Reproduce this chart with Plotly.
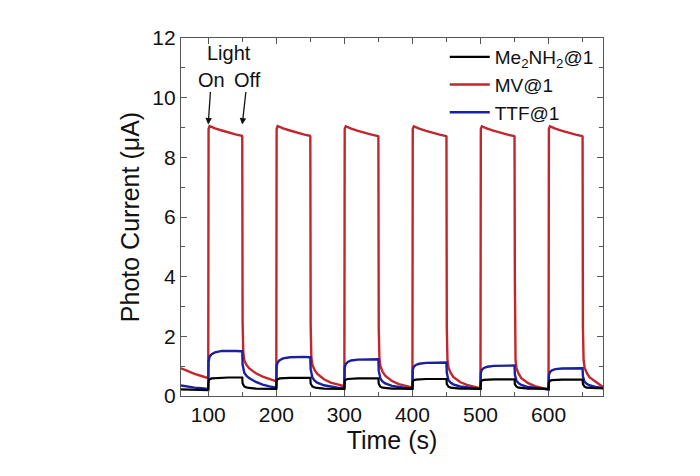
import plotly.graph_objects as go

# ---- data ----
PRE_T = [60, 70, 80, 90, 99]
CYCLE_STARTS = [100, 200, 300, 400, 500, 600]
CYC_OFFSETS = [0, 0.5, 2, 5, 10, 20, 30, 40, 49.5, 50, 50.5, 51.5, 53, 56, 60, 70, 80, 90, 99]

MV_PRE = [0.93, 0.83, 0.74, 0.67, 0.62]
MV_CYCLES = [
    [0.6, 8.95, 9.05, 9.02, 8.97, 8.9, 8.83, 8.77, 8.72, 8.7, 2.5, 1.45, 1.2, 1.05, 0.93, 0.76, 0.65, 0.56, 0.5],
    [0.5, 8.95, 9.05, 9.02, 8.97, 8.9, 8.83, 8.77, 8.72, 8.7, 2.4, 1.3, 1.05, 0.88, 0.75, 0.56, 0.45, 0.38, 0.33],
    [0.33, 8.95, 9.04, 9.01, 8.96, 8.89, 8.82, 8.76, 8.71, 8.7, 2.3, 1.25, 1.0, 0.82, 0.68, 0.5, 0.4, 0.33, 0.29],
    [0.29, 8.95, 9.04, 9.01, 8.96, 8.89, 8.82, 8.76, 8.71, 8.7, 2.3, 1.2, 0.95, 0.78, 0.64, 0.47, 0.37, 0.3, 0.26],
    [0.26, 8.95, 9.04, 9.01, 8.96, 8.89, 8.82, 8.76, 8.71, 8.7, 3.9, 1.2, 0.92, 0.75, 0.6, 0.43, 0.33, 0.26, 0.21],
    [0.21, 8.95, 9.04, 9.01, 8.96, 8.89, 8.82, 8.76, 8.71, 8.7, 2.3, 1.2, 0.95, 0.78, 0.63, 0.45, 0.3, 0.28, 0.25],
]

TTF_PRE = [0.35, 0.31, 0.28, 0.26, 0.24]
TTF_CYCLES = [
    [0.24, 1.15, 1.32, 1.40, 1.46, 1.51, 1.52, 1.51, 1.50, 1.50, 1.05, 0.88, 0.78, 0.68, 0.6, 0.47, 0.38, 0.32, 0.28],
    [0.28, 1.0, 1.13, 1.2, 1.26, 1.30, 1.31, 1.31, 1.30, 1.30, 0.9, 0.72, 0.62, 0.52, 0.45, 0.36, 0.31, 0.28, 0.26],
    [0.26, 0.95, 1.07, 1.14, 1.19, 1.22, 1.23, 1.23, 1.23, 1.23, 0.85, 0.68, 0.58, 0.49, 0.42, 0.34, 0.3, 0.27, 0.25],
    [0.25, 0.88, 0.98, 1.04, 1.08, 1.11, 1.12, 1.12, 1.12, 1.12, 0.78, 0.62, 0.53, 0.45, 0.39, 0.32, 0.28, 0.26, 0.24],
    [0.24, 0.78, 0.88, 0.94, 0.98, 1.01, 1.02, 1.02, 1.02, 1.02, 0.72, 0.58, 0.5, 0.43, 0.37, 0.3, 0.27, 0.25, 0.22],
    [0.22, 0.70, 0.80, 0.86, 0.90, 0.92, 0.93, 0.93, 0.93, 0.93, 0.66, 0.54, 0.47, 0.41, 0.36, 0.3, 0.26, 0.25, 0.24],
]

ME_PRE = [0.22, 0.21, 0.21, 0.2, 0.2]
ME_CYCLES = [
    [0.2, 0.5, 0.56, 0.59, 0.6, 0.61, 0.62, 0.62, 0.62, 0.62, 0.42, 0.36, 0.32, 0.29, 0.27, 0.25, 0.24, 0.24, 0.24],
    [0.24, 0.5, 0.56, 0.59, 0.6, 0.61, 0.61, 0.61, 0.61, 0.61, 0.42, 0.36, 0.32, 0.29, 0.27, 0.25, 0.25, 0.24, 0.24],
    [0.24, 0.5, 0.55, 0.57, 0.58, 0.59, 0.59, 0.59, 0.59, 0.59, 0.41, 0.35, 0.31, 0.28, 0.27, 0.25, 0.25, 0.24, 0.24],
    [0.24, 0.48, 0.53, 0.55, 0.56, 0.57, 0.57, 0.57, 0.57, 0.57, 0.4, 0.34, 0.31, 0.28, 0.27, 0.25, 0.25, 0.24, 0.24],
    [0.24, 0.47, 0.52, 0.54, 0.55, 0.56, 0.56, 0.56, 0.56, 0.56, 0.4, 0.34, 0.31, 0.28, 0.27, 0.25, 0.25, 0.24, 0.24],
    [0.24, 0.46, 0.51, 0.53, 0.54, 0.55, 0.55, 0.55, 0.55, 0.55, 0.4, 0.34, 0.31, 0.28, 0.27, 0.26, 0.26, 0.25, 0.25],
]

X_TICKS = [100, 200, 300, 400, 500, 600]
Y_TICKS = [0, 2, 4, 6, 8, 10, 12]

# ---- assemble series ----
T = list(PRE_T)
for s in CYCLE_STARTS:
    T += [s + o for o in CYC_OFFSETS]


def series(pre, cycles):
    out = list(pre)
    for c in cycles:
        out += c
    return out


FONT = "Arial, 'Liberation Sans', sans-serif"

fig = go.Figure()
fig.add_trace(go.Scatter(x=T, y=series(MV_PRE, MV_CYCLES), mode="lines", name="MV@1",
                         line=dict(color="#c1272d", width=2.4), legendrank=2))
fig.add_trace(go.Scatter(x=T, y=series(TTF_PRE, TTF_CYCLES), mode="lines", name="TTF@1",
                         line=dict(color="#1b1fa0", width=2.4), legendrank=3))
fig.add_trace(go.Scatter(x=T, y=series(ME_PRE, ME_CYCLES), mode="lines", name="Me<sub>2</sub>NH<sub>2</sub>@1",
                         line=dict(color="#000000", width=2.2), legendrank=1))

axis_common = dict(
    showgrid=False, zeroline=False, showline=True, linecolor="#555555", linewidth=1.2,
    mirror="allticks", ticks="inside", ticklen=6, tickwidth=1, tickcolor="#555555",
    tickfont=dict(family=FONT, size=21, color="#111111"),
)

fig.update_xaxes(range=[60, 680], tickvals=X_TICKS,
                 minor=dict(ticks="inside", ticklen=4, tickvals=[150, 250, 350, 450, 550, 650], tickcolor="#555555"),
                 title=dict(text="Time (s)", font=dict(family=FONT, size=25, color="#111111"), standoff=4),
                 **axis_common)
fig.update_yaxes(range=[0, 12], tickvals=Y_TICKS,
                 minor=dict(ticks="inside", ticklen=4, tickvals=[1, 3, 5, 7, 9, 11], tickcolor="#555555"),
                 title=dict(text="Photo Current (μA)", font=dict(family=FONT, size=25, color="#111111"), standoff=5),
                 **axis_common)

ann_font = dict(family=FONT, size=20, color="#111111")
fig.add_annotation(x=131, y=11.5, text="Light", showarrow=False, font=ann_font)
fig.add_annotation(x=100, y=9.1, ax=3, ay=-45, text="On", showarrow=True, font=ann_font,
                   arrowhead=2, arrowsize=1, arrowwidth=1.3, arrowcolor="#111111")
fig.add_annotation(x=150, y=9.1, ax=5, ay=-45, text="Off", showarrow=True, font=ann_font,
                   arrowhead=2, arrowsize=1, arrowwidth=1.3, arrowcolor="#111111")

fig.update_layout(
    width=700, height=476,
    margin=dict(l=173, r=105, t=30, b=88),
    paper_bgcolor="white", plot_bgcolor="white",
    font=dict(family=FONT, color="#111111"),
    legend=dict(x=0.625, y=1.0, xanchor="left", yanchor="top", bgcolor="rgba(0,0,0,0)",
                font=dict(family=FONT, size=19, color="#111111"), tracegroupgap=0,
                itemwidth=40),
    showlegend=True,
)

fig.write_html("out.html")
